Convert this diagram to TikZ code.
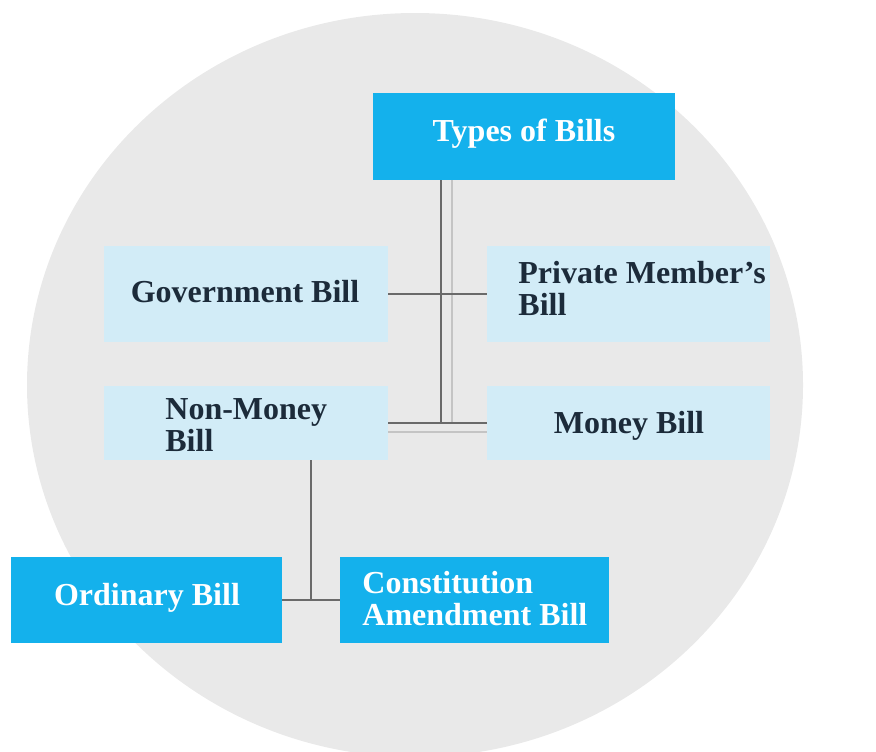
\documentclass[tikz,border=0pt]{standalone}
\usepackage{fontspec}
\setmainfont{Liberation Serif}
\usetikzlibrary{fit}
\definecolor{bgray}{HTML}{E9E9E9}
\definecolor{bblue}{HTML}{14B1EC}
\definecolor{lblue}{HTML}{D2ECF7}
\definecolor{navy}{HTML}{1C2B3A}
\definecolor{lineg}{HTML}{6A6A6A}
\definecolor{shadg}{HTML}{C4C4C4}
\tikzset{
  bluebox/.style={inner sep=0pt, fill=bblue, draw=none},
  lightbox/.style={inner sep=0pt, fill=lblue, draw=none},
  wtext/.style={text=white, font=\fontsize{16}{16}\selectfont\bfseries, inner sep=0pt},
  dtext/.style={text=navy, font=\fontsize{16}{16}\selectfont\bfseries, inner sep=0pt},
  conn/.style={draw=lineg, line width=0.9pt},
  shad/.style={draw=shadg, line width=0.9pt}
}
\begin{document}
\begin{tikzpicture}[x=0.5pt,y=-0.5pt]
\useasboundingbox (0,0) rectangle (876,751);
\begin{scope}
  \clip (0,0) rectangle (876,751);
  \fill[bgray] (415,385) ellipse [x radius=194pt, y radius=186pt];
\end{scope}
% boxes
\node[bluebox, fit={(373,93) (675,180)}] (types) {};
\node[lightbox, fit={(104,246) (388,342)}] (gov) {};
\node[lightbox, fit={(487,246) (770,342)}] (priv) {};
\node[lightbox, fit={(104,386) (388,460)}] (nonm) {};
\node[lightbox, fit={(487,386) (770,460)}] (money) {};
\node[bluebox, fit={(11,557) (282,643)}] (ord) {};
\node[bluebox, fit={(340,557) (609,643)}] (const) {};
% junctions
\coordinate (jtop) at (441,180);
\coordinate (jlow) at (441,423);
\coordinate (nmx) at (311,460);
\coordinate (jord) at (311,600);
% connectors (shadow lines first)
\draw[shad] ([xshift=5.5pt]types.south -| jtop) -- ([xshift=5.5pt]jlow);
\draw[shad] ([yshift=-4.5pt]nonm.east) -- ([yshift=-4.5pt]money.west);
\draw[conn] (types.south -| jtop) -- (jlow);
\draw[conn] (gov.east) -- (priv.west);
\draw[conn] (nonm.east) -- (money.west);
\draw[conn] (nonm.south -| nmx) -- (jord);
\draw[conn] (ord.east) -- (const.west);
% texts
\node[wtext, anchor=base] (tTypes) at (524,141) {Types of Bills};
\node[dtext, anchor=base] (tGov) at (245,302) {Government Bill};
\node[dtext, anchor=west, align=left] (tPriv) at (518,288) {Private Member's\\Bill};
\node[dtext, anchor=west, align=left] (tNonm) at (165,425) {Non-Money\\Bill};
\node[dtext, anchor=base] (tMoney) at (629,433) {Money Bill};
\node[wtext, anchor=base] (tOrd) at (147,605) {Ordinary Bill};
\node[wtext, anchor=west, align=left] (tConst) at (362,599) {Constitution\\Amendment Bill};
\end{tikzpicture}
\end{document}
